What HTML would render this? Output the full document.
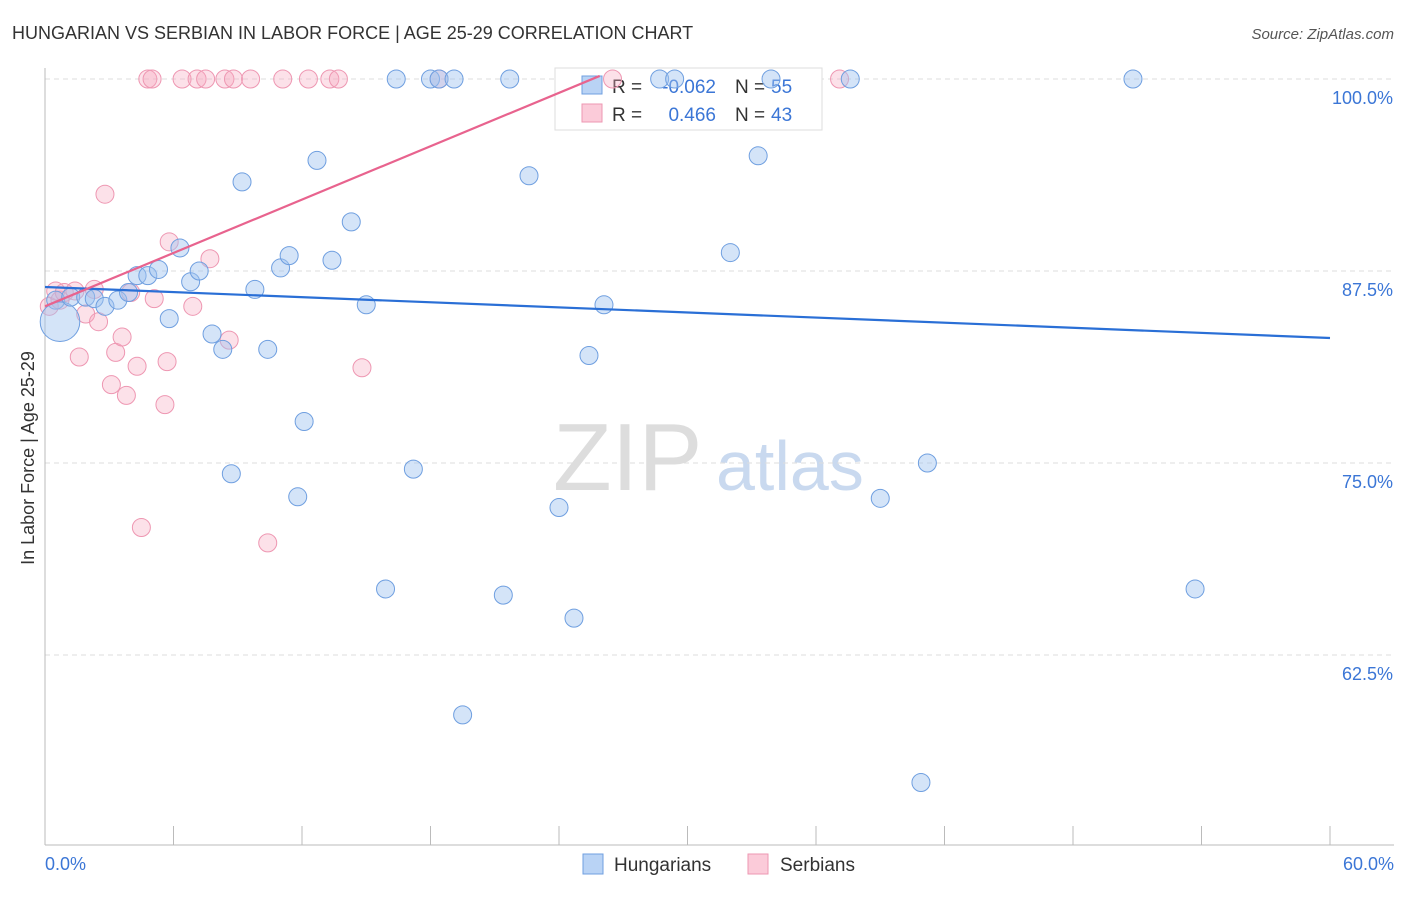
<!DOCTYPE html>
<html><head><meta charset="utf-8"><style>
body{margin:0;background:#fff;font-family:"Liberation Sans",sans-serif;}
svg text{font-family:"Liberation Sans",sans-serif;}
</style></head><body>
<svg id="c" width="1406" height="892" xmlns="http://www.w3.org/2000/svg">
<text x="12" y="39" font-size="18" fill="#333">HUNGARIAN VS SERBIAN IN LABOR FORCE | AGE 25-29 CORRELATION CHART</text>
<text x="1394" y="39" font-size="15" fill="#555" font-style="italic" text-anchor="end">Source: ZipAtlas.com</text>
<text x="34" y="458" font-size="18" fill="#333" text-anchor="middle" transform="rotate(-90 34 458)">In Labor Force | Age 25-29</text>
<text x="553" y="490" font-size="96" fill="#ddd" font-family="Liberation Serif">ZIP</text>
<text x="716" y="490" font-size="70" fill="#c9d9ef">atlas</text>
<g id="grid"></g>
<g>
<rect x="555" y="68" width="267" height="62" fill="#fff" stroke="#ddd"/>
<rect x="582" y="76" width="20" height="18" fill="#b9d3f5" stroke="#6f9fe0"/>
<rect x="582" y="104" width="20" height="18" fill="#fbcbd9" stroke="#ee97b2"/>
<text x="612" y="93" font-size="19" fill="#333">R =</text>
<text x="716" y="93" font-size="19" fill="#3b76d6" text-anchor="end">-0.062</text>
<text x="735" y="93" font-size="19" fill="#333">N =</text>
<text x="771" y="93" font-size="19" fill="#3b76d6">55</text>
<text x="612" y="121" font-size="19" fill="#333">R =</text>
<text x="716" y="121" font-size="19" fill="#3b76d6" text-anchor="end">0.466</text>
<text x="735" y="121" font-size="19" fill="#333">N =</text>
<text x="771" y="121" font-size="19" fill="#3b76d6">43</text>
</g>
<g id="pts"></g><g id="lines"></g>
<g>
<rect x="583" y="854" width="20" height="20" fill="#b9d3f5" stroke="#6f9fe0"/>
<text x="614" y="871" font-size="19" fill="#333">Hungarians</text>
<rect x="748" y="854" width="20" height="20" fill="#fbcbd9" stroke="#ee97b2"/>
<text x="780" y="871" font-size="19" fill="#333">Serbians</text>
</g>
</svg>
<script>
const yTicks=[100,87.5,75,62.5];
const yTickLabels=["100.0%","87.5%","75.0%","62.5%"];
const hunX=[0.5,0.7,1.2,1.9,2.3,2.8,3.4,3.9,4.3,4.8,5.3,5.8,6.3,6.8,7.2,7.8,8.3,9.2,9.8,10.4,11.0,11.4,11.8,12.1,12.7,13.4,14.3,15.0,15.9,16.4,17.2,18.0,18.4,19.1,19.5,21.4,21.7,22.6,24.0,24.7,25.4,26.1,28.7,29.4,32.0,33.3,37.6,39.0,40.9,41.2,50.8,53.7,33.9,8.7];
const hunY=[85.6,84.2,85.8,85.8,85.7,85.2,85.6,86.1,87.2,87.2,87.6,84.4,89.0,86.8,87.5,83.4,82.4,93.3,86.3,82.4,87.7,88.5,72.8,77.7,94.7,88.2,90.7,85.3,66.8,100,74.6,100,100,100,58.6,66.4,100,93.7,72.1,64.9,82.0,85.3,100,100,88.7,95.0,100,72.7,54.2,75.0,100,66.8,100,74.3];
const hunR=[10,22,10,10,10,10,10,10,10,10,10,10,10,10,10,10,10,10,10,10,10,10,10,10,10,10,10,10,10,10,10,10,10,10,10,10,10,10,10,10,10,10,10,10,10,10,10,10,10,10,10,10,10,10];
const serX=[0.2,0.5,0.7,0.9,1.4,1.6,1.9,2.3,2.5,2.8,3.1,3.3,3.6,3.8,4.0,4.3,4.5,4.8,5.0,5.1,5.6,5.7,5.8,6.4,6.9,7.1,7.5,7.7,8.4,8.6,8.8,9.6,10.4,11.1,12.3,13.3,13.7,14.8,18.4,26.5,37.1];
const serY=[85.2,86.2,85.6,86.1,86.2,81.9,84.7,86.3,84.2,92.5,80.1,82.2,83.2,79.4,86.1,81.3,70.8,100,100,85.7,78.8,81.6,89.4,100,85.2,100,100,88.3,100,83.0,100,100,69.8,100,100,100,100,81.2,100,100,100];
const hunLine=[86.46,83.14];
const serLine=[85.2,100.2];
const X0=45,X1=1330,YT=79,YS=15.36;
const sx=v=>X0+v/60*(X1-X0), sy=v=>YT+(100-v)*YS;
const NS="http://www.w3.org/2000/svg";
function mk(t,a,p){const e=document.createElementNS(NS,t);for(const k in a)e.setAttribute(k,a[k]);p.appendChild(e);return e;}
const G=document.getElementById('grid');
yTicks.forEach((v,i)=>{
 const l=mk('line',{x1:X0,x2:1394,y1:sy(v),y2:sy(v),stroke:'#ddd','stroke-dasharray':'5,4'},G);
 
 
 const t=mk('text',{x:1393,y:sy(v)+25,'font-size':18,fill:'#3b76d6','text-anchor':'end'},G);t.textContent=yTickLabels[i];
 
 
});
mk('line',{x1:X0,x2:X0,y1:68,y2:845,stroke:'#bbb'},G);
mk('line',{x1:X0,x2:1394,y1:845,y2:845,stroke:'#bbb'},G);
for(let i=0;i<=10;i++){mk('line',{x1:sx(i*6),x2:sx(i*6),y1:826,y2:845,stroke:'#bbb'},G);}
let t=mk('text',{x:45,y:870,'font-size':18,fill:'#3b76d6'},G);t.textContent='0.0%';


t=mk('text',{x:1394,y:870,'font-size':18,fill:'#3b76d6','text-anchor':'end'},G);t.textContent='60.0%';


const P=document.getElementById('pts');
serX.forEach((x,i)=>{const c=mk('circle',{cx:sx(x),cy:sy(serY[i]),r:9,fill:'rgba(246,170,193,0.35)',stroke:'#ee97b2','stroke-width':1},P);
 
 });
hunX.forEach((x,i)=>{const c=mk('circle',{cx:sx(x),cy:sy(hunY[i]),r:hunR[i]*0.9,fill:'rgba(160,196,240,0.45)',stroke:'#6f9fe0','stroke-width':1},P);
 
 });
const L=document.getElementById('lines');
let a=mk('line',{x1:sx(0),y1:sy(hunLine[0]),x2:sx(60),y2:sy(hunLine[1]),stroke:'#2a6fd6','stroke-width':2.2},L);


a=mk('line',{x1:sx(0),y1:sy(serLine[0]),x2:sx(25.9),y2:sy(serLine[1]),stroke:'#e8638e','stroke-width':2.2},L);


</script>
</body></html>
